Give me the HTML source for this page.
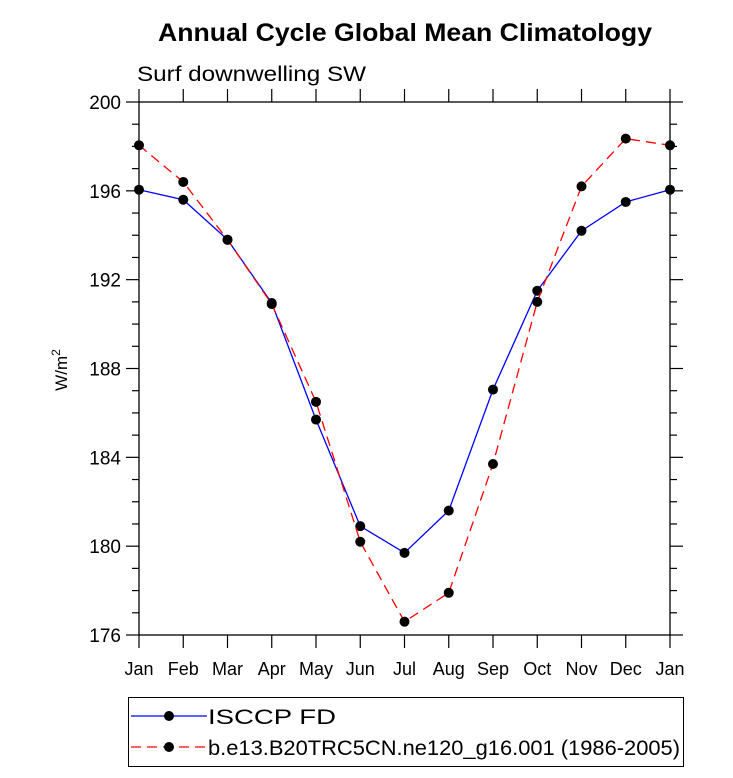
<!DOCTYPE html>
<html><head><meta charset="utf-8"><style>
html,body{margin:0;padding:0;background:#fff;}
svg text{font-family:"Liberation Sans",Arial,sans-serif;}
</style></head><body>
<svg id="chart" width="733" height="773" xmlns="http://www.w3.org/2000/svg">
<text x="158" y="41" textLength="494" lengthAdjust="spacingAndGlyphs" font-size="25" font-weight="bold">Annual Cycle Global Mean Climatology</text>
<text x="137" y="81" textLength="229" lengthAdjust="spacingAndGlyphs" font-size="21">Surf downwelling SW</text>
<text transform="translate(67,370) rotate(-90)" text-anchor="middle" font-size="17">W/m<tspan dy="-7" font-size="12">2</tspan></text>
<g id="axes"></g>
<g id="series"></g>
<rect x="128.5" y="697.5" width="555" height="69" fill="none" stroke="#000" stroke-width="1"/>
<line x1="131" y1="716" x2="207" y2="716" stroke="#0000ff" stroke-width="1.3"/>
<circle cx="169" cy="716" r="5" fill="#000"/>
<text x="208" y="724" textLength="128" lengthAdjust="spacingAndGlyphs" font-size="21">ISCCP FD</text>
<line x1="131" y1="747" x2="207" y2="747" stroke="#ff0000" stroke-width="1.3" stroke-dasharray="10,6"/>
<circle cx="169" cy="747" r="5" fill="#000"/>
<text x="208" y="755" textLength="472" lengthAdjust="spacingAndGlyphs" font-size="21">b.e13.B20TRC5CN.ne120_g16.001 (1986-2005)</text>
</svg>
<script>
const months = ["Jan","Feb","Mar","Apr","May","Jun","Jul","Aug","Sep","Oct","Nov","Dec","Jan"];
const yTicks = [176,180,184,188,192,196,200];
const isccp = [196.05,195.6,193.8,190.95,185.7,180.9,179.7,181.6,187.05,191.5,194.2,195.5,196.05];
const model = [198.05,196.4,193.8,190.9,186.5,180.2,176.6,177.9,183.7,191.0,196.2,198.35,198.05];
const NS="http://www.w3.org/2000/svg";
const X0=139,X1=670,Y0=635,Y1=102,YMIN=176,YMAX=200;
function xs(i){return X0+(X1-X0)*i/(months.length-1);}
function ys(v){return Y0-(Y0-Y1)*(v-YMIN)/(YMAX-YMIN);}
function mk(t,a,p){const e=document.createElementNS(NS,t);for(const k in a)e.setAttribute(k,a[k]);p.appendChild(e);return e;}
const ax=document.getElementById('axes');
const frame=mk('rect',{x:X0,y:Y1,width:X1-X0,height:Y0-Y1,fill:'none',stroke:'#000','stroke-width':1.3},ax);


for(let v=YMIN;v<=YMAX;v++){const maj=(v%4===0);const L=maj?13:7;const y=ys(v);
 mk('line',{x1:X0-L,y1:y,x2:X0,y2:y,stroke:'#000','stroke-width':1.2},ax);
 mk('line',{x1:X1,y1:y,x2:X1+L,y2:y,stroke:'#000','stroke-width':1.2},ax);}
yTicks.forEach(v=>{const t=mk('text',{x:X0-18,y:ys(v)+7,'text-anchor':'end','font-size':19},ax);t.textContent=v;
 
 });
months.forEach((m,i)=>{const x=xs(i);
 mk('line',{x1:x,y1:Y0,x2:x,y2:Y0+13,stroke:'#000','stroke-width':1.2},ax);
 mk('line',{x1:x,y1:Y1-13,x2:x,y2:Y1,stroke:'#000','stroke-width':1.2},ax);
 const t=mk('text',{x:x,y:675,'text-anchor':'middle','font-size':18},ax);t.textContent=m;
 
 });
const sg=document.getElementById('series');
function draw(vals,color,dash,name){
 const pts=vals.map((v,i)=>xs(i)+','+ys(v)).join(' ');
 const pl=mk('polyline',{points:pts,fill:'none',stroke:color,'stroke-width':1.3,'stroke-dasharray':dash},sg);
 
 
 vals.forEach((v,i)=>{const c=mk('circle',{cx:xs(i),cy:ys(v),r:5,fill:'#000'},sg);
  
  });
}
draw(isccp,'#0000ff','none','isccp');
draw(model,'#ff0000','10,6','model');
</script>
</body></html>
